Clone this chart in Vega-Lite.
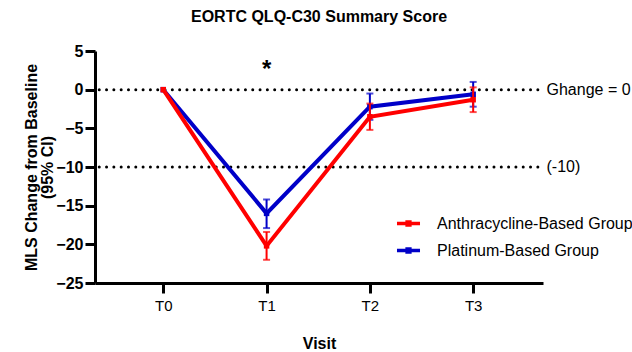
{
  "$schema": "https://vega.github.io/schema/vega-lite/v6.json",
  "autosize": {"type": "none"},
  "width": 448,
  "height": 232,
  "padding": {"left": 95, "top": 51, "right": 89, "bottom": 69},
  "background": "white",
  "title": {
    "text": "EORTC QLQ-C30 Summary Score",
    "font": "Liberation Sans",
    "fontSize": 16,
    "fontWeight": "bold",
    "color": "black",
    "frame": "group",
    "anchor": "middle",
    "offset": 18
  },
  "config": {
    "view": {"stroke": null},
    "font": "Liberation Sans",
    "axis": {
      "grid": false,
      "domainColor": "black",
      "domainWidth": 3,
      "tickColor": "black",
      "tickWidth": 3,
      "tickSize": 10,
      "labelColor": "black",
      "titleColor": "black",
      "labelFont": "Liberation Sans",
      "titleFont": "Liberation Sans",
      "titleFontSize": 16,
      "titleFontWeight": "bold"
    }
  },
  "datasets": {
    "scores": [
      {"group": "Platinum-Based Group", "visit": 0, "mean": 0, "lo": 0, "hi": 0},
      {"group": "Platinum-Based Group", "visit": 1, "mean": -16.0, "lo": -17.9, "hi": -14.2},
      {"group": "Platinum-Based Group", "visit": 2, "mean": -2.2, "lo": -3.9, "hi": -0.5},
      {"group": "Platinum-Based Group", "visit": 3, "mean": -0.6, "lo": -2.2, "hi": 1.0},
      {"group": "Anthracycline-Based Group", "visit": 0, "mean": 0, "lo": 0, "hi": 0},
      {"group": "Anthracycline-Based Group", "visit": 1, "mean": -20.2, "lo": -22.0, "hi": -18.4},
      {"group": "Anthracycline-Based Group", "visit": 2, "mean": -3.5, "lo": -5.2, "hi": -1.8},
      {"group": "Anthracycline-Based Group", "visit": 3, "mean": -1.3, "lo": -2.9, "hi": 0.3}
    ],
    "refs": [
      {"ref": 0, "label": "Ghange = 0"},
      {"ref": -10, "label": "(-10)"}
    ],
    "marks": [
      {"visit": 1, "note": "*"}
    ]
  },
  "layer": [
    {
      "data": {"name": "refs"},
      "mark": {"type": "rule", "color": "black", "strokeWidth": 3, "strokeCap": "round", "strokeDash": [0.01, 7.3]},
      "encoding": {
        "y": {"field": "ref", "type": "quantitative"},
        "x": {"datum": -0.62},
        "x2": {"datum": 3.63}
      }
    },
    {
      "data": {"name": "refs"},
      "mark": {"type": "text", "align": "left", "baseline": "middle", "fontSize": 16, "color": "black", "font": "Liberation Sans"},
      "encoding": {
        "y": {"field": "ref", "type": "quantitative"},
        "x": {"datum": 3.71},
        "text": {"field": "label"}
      }
    },
    {
      "data": {"name": "marks"},
      "mark": {"type": "text", "fontSize": 24, "fontWeight": "bold", "baseline": "middle", "color": "black", "font": "Liberation Sans"},
      "encoding": {
        "x": {"field": "visit", "type": "quantitative"},
        "y": {"datum": 2.5},
        "text": {"field": "note"}
      }
    },
    {
      "data": {"name": "scores"},
      "transform": [{"filter": "datum.group === 'Platinum-Based Group'"}],
      "layer": [
        {
          "mark": {"type": "line", "strokeWidth": 4},
          "encoding": {
            "x": {"field": "visit", "type": "quantitative"},
            "y": {"field": "mean", "type": "quantitative"},
            "color": {"field": "group", "type": "nominal"}
          }
        },
        {
          "transform": [{"filter": "datum.visit > 0"}],
          "mark": {"type": "rule", "strokeWidth": 2},
          "encoding": {
            "x": {"field": "visit", "type": "quantitative"},
            "y": {"field": "lo", "type": "quantitative"},
            "y2": {"field": "hi"},
            "color": {"field": "group", "type": "nominal"}
          }
        },
        {
          "transform": [{"filter": "datum.visit > 0"}, {"fold": ["lo", "hi"], "as": ["end", "val"]}],
          "mark": {"type": "tick", "orient": "horizontal", "size": 7, "thickness": 2},
          "encoding": {
            "x": {"field": "visit", "type": "quantitative"},
            "y": {"field": "val", "type": "quantitative"},
            "color": {"field": "group", "type": "nominal"}
          }
        },
        {
          "mark": {"type": "point", "shape": "square", "filled": true, "size": 30, "opacity": 1},
          "encoding": {
            "x": {"field": "visit", "type": "quantitative"},
            "y": {"field": "mean", "type": "quantitative"},
            "color": {"field": "group", "type": "nominal"}
          }
        }
      ]
    },
    {
      "data": {"name": "scores"},
      "transform": [{"filter": "datum.group === 'Anthracycline-Based Group'"}],
      "layer": [
        {
          "mark": {"type": "line", "strokeWidth": 4},
          "encoding": {
            "x": {"field": "visit", "type": "quantitative"},
            "y": {"field": "mean", "type": "quantitative"},
            "color": {"field": "group", "type": "nominal"}
          }
        },
        {
          "transform": [{"filter": "datum.visit > 0"}],
          "mark": {"type": "rule", "strokeWidth": 2},
          "encoding": {
            "x": {"field": "visit", "type": "quantitative"},
            "y": {"field": "lo", "type": "quantitative"},
            "y2": {"field": "hi"},
            "color": {"field": "group", "type": "nominal"}
          }
        },
        {
          "transform": [{"filter": "datum.visit > 0"}, {"fold": ["lo", "hi"], "as": ["end", "val"]}],
          "mark": {"type": "tick", "orient": "horizontal", "size": 7, "thickness": 2},
          "encoding": {
            "x": {"field": "visit", "type": "quantitative"},
            "y": {"field": "val", "type": "quantitative"},
            "color": {"field": "group", "type": "nominal"}
          }
        },
        {
          "mark": {"type": "point", "shape": "square", "filled": true, "size": 30, "opacity": 1},
          "encoding": {
            "x": {"field": "visit", "type": "quantitative"},
            "y": {"field": "mean", "type": "quantitative"},
            "color": {"field": "group", "type": "nominal"}
          }
        }
      ]
    }
  ],
  "resolve": {"scale": {"x": "shared", "y": "shared", "color": "shared"}},
  "encoding": {
    "x": {
      "type": "quantitative",
      "scale": {"domain": [-0.661, 3.676], "nice": false, "zero": false},
      "axis": {
        "title": "Visit",
        "values": [0, 1, 2, 3],
        "labelExpr": "'T' + datum.value",
        "labelFontSize": 15,
        "labelPadding": 5,
        "titlePadding": 22,
        "domain": true
      }
    },
    "y": {
      "type": "quantitative",
      "scale": {"domain": [-25, 5], "nice": false, "zero": false},
      "axis": {
        "title": ["MLS Change from Baseline", "(95% CI)"],
        "values": [-25, -20, -15, -10, -5, 0, 5],
        "labelFontSize": 16,
        "labelFontWeight": "bold",
        "labelPadding": 2,
        "titlePadding": 0,
        "titleLineHeight": 16
      }
    },
    "color": {
      "type": "nominal",
      "scale": {
        "domain": ["Anthracycline-Based Group", "Platinum-Based Group"],
        "range": ["#ff0000", "#0000c8"]
      },
      "legend": {
        "title": null,
        "orient": "none",
        "legendX": 300,
        "legendY": 159,
        "labelFontSize": 16,
        "labelFont": "Liberation Sans",
        "labelColor": "black",
        "labelLimit": 400,
        "symbolType": "M-1,0L1,0M-0.12,-0.12L0.12,-0.12L0.12,0.12L-0.12,0.12Z",
        "symbolSize": 530,
        "symbolStrokeWidth": 3.5,
        "symbolOpacity": 1,
        "rowPadding": 5,
        "labelOffset": 15
      }
    }
  }
}
